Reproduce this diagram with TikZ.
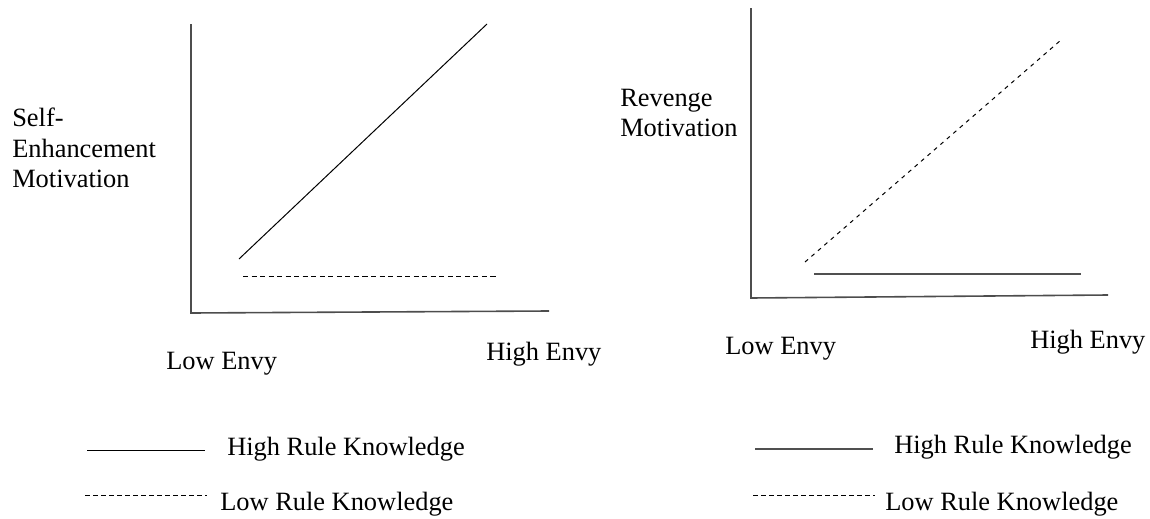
\documentclass[tikz,border=0pt]{standalone}
\usepackage{fontspec}
\setmainfont{Liberation Serif}
\usetikzlibrary{positioning}
\definecolor{axisgray}{HTML}{4D4D4D}
\definecolor{linegray}{HTML}{505050}
\tikzset{
  axisline/.style={draw=axisgray, line width=1.2pt},
  hiline/.style={draw=black, line width=0.75pt},
  loline/.style={draw=black, line width=0.75pt, dash pattern=on 3.8pt off 2.6pt},
  lbl/.style={font=\fontsize{19.8}{22.9}\selectfont, inner sep=0pt}
}

\begin{document}
\begin{tikzpicture}[x=0.75pt,y=-0.75pt]
  \useasboundingbox (0,0) rectangle (1150,518);

  % left panel
  \coordinate (Ltop) at (191,24);
  \coordinate (Lorig) at (191,313);
  \coordinate (Lend) at (549,311);
  \draw[axisline] (Ltop) -- (Lorig) -- (Lend);
  \coordinate (Lhi0) at (239,259);
  \coordinate (Lhi1) at (487,24);
  \coordinate (Llo0) at (243,276);
  \coordinate (Llo1) at (498,276);
  \draw[hiline] (Lhi0) -- (Lhi1);
  \draw[loline] (Llo0) -- (Llo1);
  \node[lbl, anchor=north west, align=left] (Lylab) at (12,108) {Self-\\Enhancement\\Motivation};
  \node[lbl, anchor=base west] (Llow) at (166,369) {Low Envy};
  \node[lbl, anchor=base west] (Lhigh) at (486,360) {High Envy};

  % right panel
  \coordinate (Rtop) at (751,8);
  \coordinate (Rorig) at (751,298);
  \coordinate (Rend) at (1108,295);
  \draw[axisline] (Rtop) -- (Rorig) -- (Rend);
  \coordinate (Rlo0) at (805,262);
  \coordinate (Rlo1) at (1061,40);
  \coordinate (Rhi0) at (814,274);
  \coordinate (Rhi1) at (1081,274);
  \draw[loline, dash pattern=on 3pt off 3.4pt] (Rlo0) -- (Rlo1);
  \draw[hiline, draw=linegray, line width=1pt] (Rhi0) -- (Rhi1);
  \node[lbl, anchor=north west, align=left] (Rylab) at (620,88.5) {Revenge\\Motivation};
  \node[lbl, anchor=base west] (Rlow) at (725,354) {Low Envy};
  \node[lbl, anchor=base west] (Rhigh) at (1030,348) {High Envy};

  % legends
  \coordinate (LkA0) at (87,450);
  \coordinate (LkA1) at (205,450);
  \coordinate (LkB0) at (85,495);
  \coordinate (LkB1) at (207,495);
  \draw[hiline] (LkA0) -- (LkA1);
  \draw[loline, line width=0.6pt, dash pattern=on 3.6pt off 2.4pt] (LkB0) -- (LkB1);
  \node[lbl, anchor=base west] (LkAtxt) at (227,455) {High Rule Knowledge};
  \node[lbl, anchor=base west] (LkBtxt) at (220,510) {Low Rule Knowledge};

  \coordinate (RkA0) at (755,449);
  \coordinate (RkA1) at (873,449);
  \coordinate (RkB0) at (753,495);
  \coordinate (RkB1) at (875,495);
  \draw[hiline, draw=linegray, line width=1pt] (RkA0) -- (RkA1);
  \draw[loline, line width=0.6pt, dash pattern=on 3.6pt off 2.4pt] (RkB0) -- (RkB1);
  \node[lbl, anchor=base west] (RkAtxt) at (894,453) {High Rule Knowledge};
  \node[lbl, anchor=base west] (RkBtxt) at (885,510) {Low Rule Knowledge};
\end{tikzpicture}
\end{document}
